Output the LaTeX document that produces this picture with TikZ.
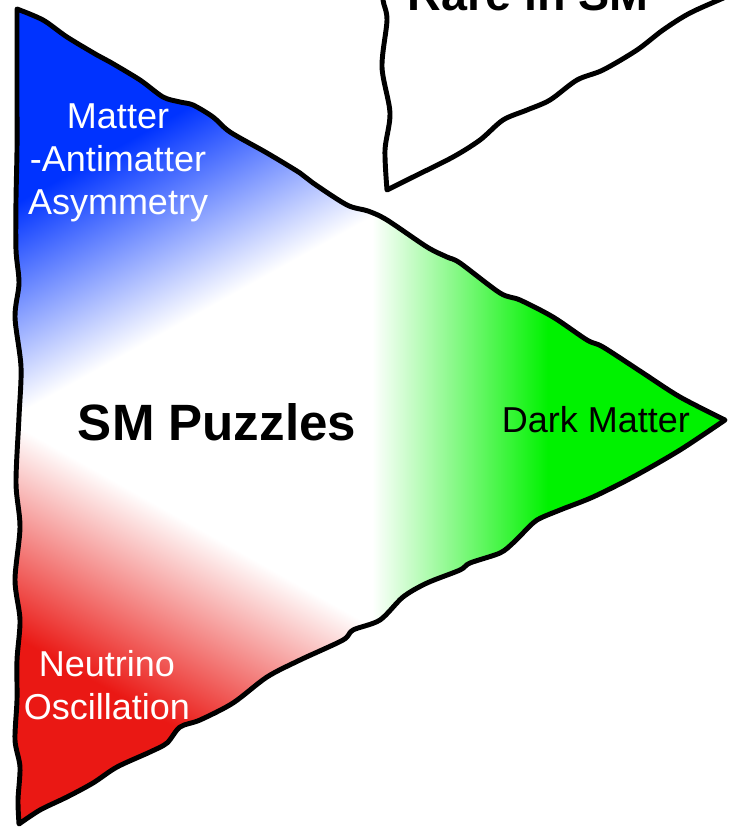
\documentclass[tikz,border=0pt]{standalone}
\usepackage{fontspec}
\setmainfont{Liberation Sans}
\definecolor{smblue}{RGB}{0, 51, 255}
\definecolor{smred}{RGB}{234, 24, 20}
\definecolor{smgreen}{RGB}{0, 242, 0}
\tikzset{
	wobbly/.style={draw=black, line width=3.7pt, line join=round, line cap=round},
	whitetext/.style={text=white, align=center, inner sep=0pt, font=\fontsize{27}{32.3}\selectfont},
	blacktext/.style={text=black, align=center, inner sep=0pt, font=\fontsize{27}{32.3}\selectfont},
	headtext/.style={text=black, inner sep=0pt, font=\fontsize{38.3}{45}\selectfont\bfseries},
}
\newcommand{\puzzleoutline}{%
	plot[smooth, tension=0.5] coordinates {(17,9) (43,20) (67,37) (97,55) (110,62) (140,80) (163,97) (180,102) (193,105) (213,117) (230,132) (267,153) (300,173) (313,183) (347,205) (368,211) (387,220) (427,247) (447,257) (460,263) (500,293) (520,300) (553,317) (587,340) (603,347) (643,373) (680,397) (725,420)}
	-- plot[smooth, tension=0.5] coordinates {(725,420) (680,450) (633,477) (593,497) (560,510) (537,520) (523,533) (513,543) (500,553) (470,563) (460,570) (427,583) (403,597) (380,620) (353,630) (343,640) (300,660) (267,677) (233,703) (200,720) (180,727) (167,743) (150,752) (117,767) (93,783) (67,797) (40,810) (19,824)}
	-- plot[smooth, tension=0.5] coordinates {(19,824) (18,800) (20,767) (15,740) (17,700) (17,660) (20,620) (15,580) (20,527) (16,483) (19,417) (21,367) (15,317) (19,283) (16,250) (16,200) (17,150) (17,100) (17,50) (17,9)}
	-- cycle}

\begin{document}
\begin{tikzpicture}[x=0.75pt, y=-0.75pt]
	\fill[white, use as bounding box] (0,0) rectangle (730,828);
	\clip (0,0) rectangle (730,828);
	\begin{scope}
		\clip \puzzleoutline;
		\begin{scope}[transform canvas={shift={(19,413)}, rotate=29.1}]
			\shade[top color=smblue, bottom color=white, middle color=smblue] (-60,-370) rectangle (460,0);
		\end{scope}
		\begin{scope}[transform canvas={shift={(19,427)}, rotate=-29.4}]
			\shade[top color=white, bottom color=smred, middle color=smred] (-60,0) rectangle (460,370);
		\end{scope}
		\shade[left color=white, right color=smgreen] (372,150) rectangle (548,700);
		\fill[smgreen] (548,150) rectangle (740,700);
	\end{scope}
	\draw[wobbly] \puzzleoutline;
	\draw[wobbly] plot[smooth, tension=0.5] coordinates {(383,-20) (383,0) (387,20) (382,67) (390,113) (385,150) (387,190)}
		-- plot[smooth, tension=0.5] coordinates {(387,190) (413,177) (453,157) (480,140) (503,120) (527,110) (550,100) (577,80) (603,70) (637,50) (663,30) (690,13) (730,-5) (760,-20)};
	\node[headtext, anchor=base, font=\fontsize{35}{42}\selectfont\bfseries] (rare) at (528,10) {Rare in SM};
	\node[whitetext] (asymmetry) at (118,163) {Matter\\-Antimatter\\Asymmetry};
	\node[headtext, anchor=base] (puzzles) at (217,440) {SM Puzzles};
	\node[blacktext, anchor=base] (darkmatter) at (596,432) {Dark Matter};
	\node[whitetext] (neutrino) at (107,685) {Neutrino\\Oscillation};
\end{tikzpicture}
\end{document}
